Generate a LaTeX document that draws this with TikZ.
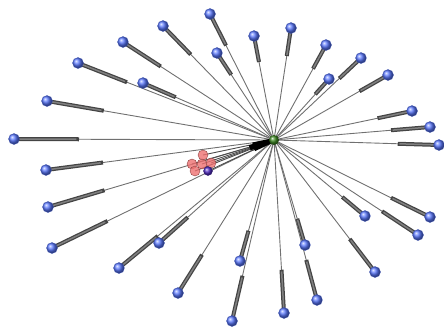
\documentclass[tikz,border=0pt]{standalone}
\usetikzlibrary{calc,backgrounds}
\definecolor{hubgreen}{HTML}{3E8A22}
\definecolor{leafblue}{HTML}{5A78FF}
\definecolor{srcred}{HTML}{EE7070}
\definecolor{srcpurple}{HTML}{5530C8}
\definecolor{wire}{HTML}{707070}
\definecolor{shaftgray}{HTML}{444444}

\begin{document}
\begin{tikzpicture}[x=1pt,y=-1pt,
  leaf/.style={circle,inner sep=0pt,minimum size=11pt,draw=leafblue!70!black,
               line width=0.3pt,shading=ball,ball color=leafblue},
  src/.style={circle,inner sep=0pt,minimum size=10pt,draw=srcred!60!black,
              line width=0.4pt,fill=srcred,fill opacity=0.8},
  hubnode/.style={circle,inner sep=0pt,minimum size=10pt,shading=ball,ball color=hubgreen},
  spoke/.style={wire,line width=0.9pt},
  shaft/.style={shaftgray,line width=4pt},
  shaftcore/.style={gray,line width=1.5pt}]
\useasboundingbox (0,0) rectangle (444,327);
\node[hubnode] (hub) at (274,140) {};
% outgoing leaves
\foreach \x/\y [count=\i] in {210/14,163/26,123/42,78/63,217/53,143/83,47/101,14/139,
    254/36,291/28,326/45,361/58,329/79,388/75,412/111,430/127,439/145,
    46/170,48/207,52/248,119/268,159/243,178/293,
    240/261,232/321,284/313,305/245,317/300,375/272,365/216,418/235,430/217}
  \node[leaf] (b\i) at (\x,\y) {};
% incoming sources
\foreach \x/\y [count=\i] in {203/155,192/164,202/164,211/163,195/171}
  \node[src] (r\i) at (\x,\y) {};
\node[circle,inner sep=0pt,minimum size=9pt,draw=srcpurple!60!black,line width=0.4pt,
      shading=ball,ball color=srcpurple] (p) at (208,171) {};
\begin{scope}[on background layer]
  \foreach \i in {1,...,32} {
    \draw[spoke] (hub.center) -- (b\i.center);
    \draw[shaft] (b\i.center) -- ($(b\i.center)!0.25!(hub.center)$);
    \draw[shaftcore] (b\i.center) -- ($(b\i.center)!0.24!(hub.center)$);
  }
  \foreach \i in {1,...,5} {
    \draw[spoke,black!70] (r\i.center) -- (hub.center);
    \draw[shaft,black] ($(hub.center)!0.3!(r\i.center)$) -- (hub.center);
  }
  \draw[spoke,black!70] (p.center) -- (hub.center);
  \draw[shaft,black] ($(hub.center)!0.3!(p.center)$) -- (hub.center);
\end{scope}
\end{tikzpicture}
\end{document}
